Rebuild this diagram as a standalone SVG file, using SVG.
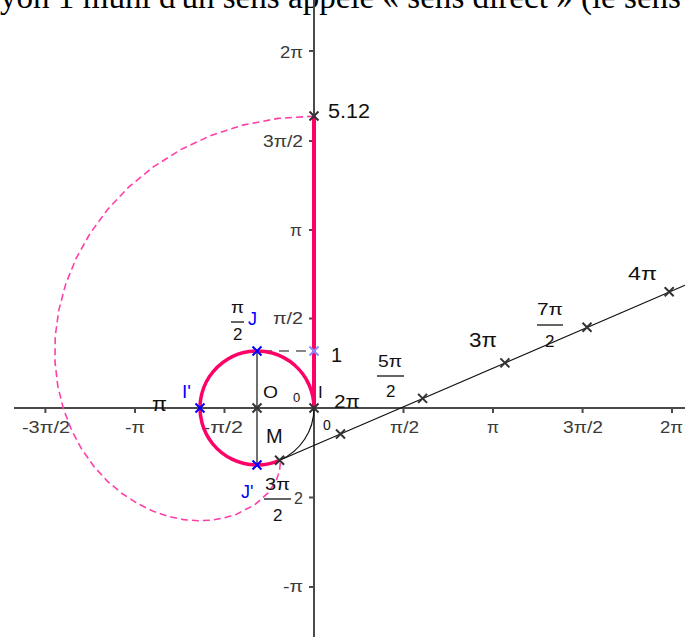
<svg xmlns="http://www.w3.org/2000/svg" width="696" height="637" viewBox="0 0 696 637">
<style>
.axis{stroke:#4a4a4a;stroke-width:2;fill:none}
.tick{stroke:#4a4a4a;stroke-width:2}
.ax{font-family:"Liberation Sans",Arial,sans-serif;font-size:16px;fill:#3a3a3a}
.lbl{font-family:"Liberation Sans",Arial,sans-serif;fill:#111}
.blue{font-family:"Liberation Sans",Arial,sans-serif;fill:#0000ff}
.xg{stroke:#333;stroke-width:2;fill:none}
.xb{stroke:#0000ff;stroke-width:2;fill:none}
.xl{stroke:#8c8cff;stroke-width:2;fill:none}
.pink{stroke:#ff0066;fill:none}
.dash{stroke:#ff3fa8;fill:none;stroke-width:1.6;stroke-dasharray:7 4}
.thin{stroke:#111;stroke-width:1.2;fill:none}
.bar{stroke:#111;stroke-width:1.3}
</style>
<defs>
<path id="cross" d="M-4.5,-4.5L4.5,4.5M-4.5,4.5L4.5,-4.5"/>
</defs>
<rect width="696" height="637" fill="#fff"/>
<text x="0" y="8" font-family="'Liberation Serif','Times New Roman',serif" font-size="32.8" fill="#000" textLength="681" lengthAdjust="spacingAndGlyphs">yon 1 muni d'un sens appelé « sens direct » (le sens</text>

<g id="axes">
<line class="axis" x1="14" y1="408" x2="685" y2="408"/>
<line class="axis" x1="314" y1="0" x2="314" y2="637"/>
<g class="tick">
<line x1="45.4" y1="409" x2="45.4" y2="413"/>
<line x1="135" y1="409" x2="135" y2="413"/>
<line x1="224.5" y1="409" x2="224.5" y2="413"/>
<line x1="403.5" y1="409" x2="403.5" y2="413"/>
<line x1="493" y1="409" x2="493" y2="413"/>
<line x1="582.6" y1="409" x2="582.6" y2="413"/>
<line x1="672" y1="409" x2="672" y2="413"/>
<line x1="309" y1="51" x2="313" y2="51"/>
<line x1="309" y1="141" x2="313" y2="141"/>
<line x1="309" y1="230" x2="313" y2="230"/>
<line x1="309" y1="318.5" x2="313" y2="318.5"/>
<line x1="309" y1="497.5" x2="313" y2="497.5"/>
<line x1="309" y1="587" x2="313" y2="587"/>
</g>
<g class="ax">
<text x="22" y="433" textLength="48" lengthAdjust="spacingAndGlyphs">-3π/2</text>
<text x="125" y="433" textLength="20" lengthAdjust="spacingAndGlyphs">-π</text>
<text x="203" y="433" textLength="40" lengthAdjust="spacingAndGlyphs">-π/2</text>
<text x="390" y="433" textLength="29" lengthAdjust="spacingAndGlyphs">π/2</text>
<text x="487" y="433" textLength="12" lengthAdjust="spacingAndGlyphs">π</text>
<text x="563" y="433" textLength="40" lengthAdjust="spacingAndGlyphs">3π/2</text>
<text x="660" y="433" textLength="23" lengthAdjust="spacingAndGlyphs">2π</text>
<text x="280" y="58" textLength="23" lengthAdjust="spacingAndGlyphs">2π</text>
<text x="263" y="147" textLength="40" lengthAdjust="spacingAndGlyphs">3π/2</text>
<text x="290" y="236" textLength="12" lengthAdjust="spacingAndGlyphs">π</text>
<text x="273" y="324" textLength="30" lengthAdjust="spacingAndGlyphs">π/2</text>
<text x="294" y="504">2</text>
<text x="283" y="592" textLength="20" lengthAdjust="spacingAndGlyphs">-π</text>
</g>
</g>

<g id="connectors">
<path class="dash" d="M314,116.2 L278.1,118.4 L243.6,124.9 L211.0,135.4 L180.8,149.6 L153.3,166.9 L128.9,186.9 L107.8,209.2 L90.2,233.2 L76.1,258.4 L65.6,284.4 L58.7,310.6 L55.2,336.6 L55.0,361.9 L57.8,386.1 L63.5,409.0 L71.6,430.2 L81.8,449.3 L93.9,466.4 L107.5,481.3 L122.0,493.5 L137.1,503.3 L152.8,511.1 L168.2,516.4 L183.5,519.6 L198.1,520.8 L211.9,520.1 L224.4,517.9 L236.0,514.5 L254.9,504.7 L268.1,492.9 L276.0,481.1 L279.5,471.2 L280.2,464.2 L279.7,460.7 L279.6,460.3"/>
<path class="thin" d="M279.6,460.3 A57,57 0 0 0 314,408"/>
<line class="thin" x1="257" y1="351" x2="257" y2="465"/>
<line class="thin" x1="262" y1="351" x2="310" y2="351" stroke-dasharray="10 7"/>
<line class="thin" x1="279.6" y1="460.3" x2="685" y2="285.2"/>
<path class="pink" stroke-width="3.5" d="M314,408 A57,57 0 1 0 279.6,460.3"/>
<line class="pink" stroke-width="4" x1="314" y1="408" x2="314" y2="116"/>
</g>

<g id="point-O"><use href="#cross" x="257" y="408" class="xg"/><text class="lbl" x="263" y="398" font-size="17" textLength="15" lengthAdjust="spacingAndGlyphs">O</text></g>
<g id="point-I"><use href="#cross" x="314" y="408" class="xg"/><text class="lbl" x="293" y="402" font-size="13">0</text><text class="lbl" x="318" y="398" font-size="17">I</text><text class="lbl" x="334" y="408" font-size="18" textLength="26" lengthAdjust="spacingAndGlyphs">2π</text></g>
<g id="point-J"><use href="#cross" x="257" y="351" class="xb"/><text class="blue" x="248" y="325" font-size="18">J</text><text class="lbl" x="231" y="313" font-size="17" textLength="13" lengthAdjust="spacingAndGlyphs">π</text><line class="bar" x1="231" y1="322" x2="244" y2="322"/><text class="lbl" x="233" y="340" font-size="17">2</text></g>
<g id="point-Iprime"><use href="#cross" x="200" y="408" class="xb"/><text class="blue" x="182" y="398" font-size="19">I'</text><text class="lbl" x="152" y="411" font-size="20" textLength="15" lengthAdjust="spacingAndGlyphs">π</text></g>
<g id="point-Jprime"><use href="#cross" x="257" y="465" class="xb"/><text class="blue" x="241" y="498" font-size="18">J'</text><text class="lbl" x="265" y="490" font-size="17" textLength="25" lengthAdjust="spacingAndGlyphs">3π</text><line class="bar" x1="264" y1="499" x2="291" y2="499"/><text class="lbl" x="273" y="521" font-size="17">2</text></g>
<g id="point-M"><use href="#cross" x="279.6" y="460.3" class="xg"/><text class="lbl" x="266" y="443" font-size="20" fill="#333">M</text></g>
<g id="point-one"><use href="#cross" x="314" y="351" class="xl"/><text class="lbl" x="331" y="362" font-size="20">1</text></g>
<g id="point-512"><use href="#cross" x="314" y="116" class="xg"/><text class="lbl" x="328" y="118" font-size="20" textLength="42" lengthAdjust="spacingAndGlyphs">5.12</text></g>
<g id="point-2pi"><use href="#cross" x="340.5" y="434" class="xg"/><text class="lbl" x="323" y="430" font-size="14">0</text></g>
<g id="point-5pi2"><use href="#cross" x="422.6" y="398.4" class="xg"/><text class="lbl" x="378" y="367" font-size="16" textLength="24" lengthAdjust="spacingAndGlyphs">5π</text><line class="bar" x1="377" y1="376" x2="404" y2="376"/><text class="lbl" x="386" y="397" font-size="17">2</text></g>
<g id="point-3pi"><use href="#cross" x="504.9" y="362.9" class="xg"/><text class="lbl" x="469" y="347" font-size="20" textLength="28" lengthAdjust="spacingAndGlyphs">3π</text></g>
<g id="point-7pi2"><use href="#cross" x="587" y="327.3" class="xg"/><text class="lbl" x="537" y="315" font-size="17" textLength="26" lengthAdjust="spacingAndGlyphs">7π</text><line class="bar" x1="537" y1="325" x2="563" y2="325"/><text class="lbl" x="545" y="347" font-size="17">2</text></g>
<g id="point-4pi"><use href="#cross" x="669.2" y="291.8" class="xg"/><text class="lbl" x="628" y="280" font-size="19" textLength="29" lengthAdjust="spacingAndGlyphs">4π</text></g>
</svg>
